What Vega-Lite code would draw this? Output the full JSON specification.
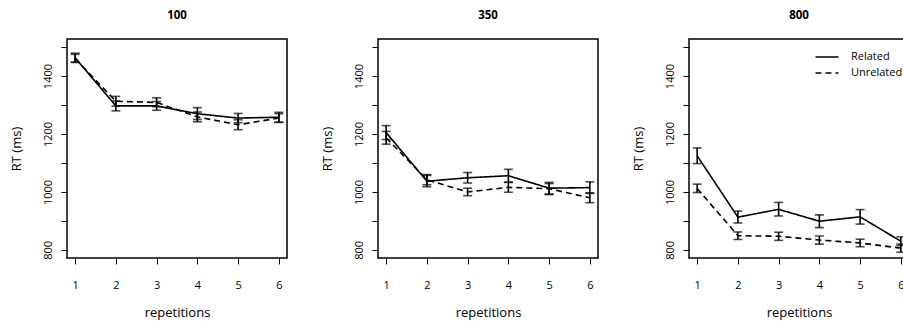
{
  "$schema": "https://vega.github.io/schema/vega-lite/v6.json",
  "background": "white",
  "padding": {"left": 9, "top": 8, "right": 0, "bottom": 0},
  "spacing": 91,
  "bounds": "flush",
  "datasets": {
    "rt": [
      {"soa": "100", "rep": 1, "cond": "Related", "rt": 1463, "lo": 1448, "hi": 1479},
      {"soa": "100", "rep": 2, "cond": "Related", "rt": 1297, "lo": 1280, "hi": 1314},
      {"soa": "100", "rep": 3, "cond": "Related", "rt": 1297, "lo": 1282, "hi": 1312},
      {"soa": "100", "rep": 4, "cond": "Related", "rt": 1270, "lo": 1250, "hi": 1291},
      {"soa": "100", "rep": 5, "cond": "Related", "rt": 1255, "lo": 1239, "hi": 1271},
      {"soa": "100", "rep": 6, "cond": "Related", "rt": 1258, "lo": 1241, "hi": 1275},
      {"soa": "100", "rep": 1, "cond": "Unrelated", "rt": 1460, "lo": 1447, "hi": 1475},
      {"soa": "100", "rep": 2, "cond": "Unrelated", "rt": 1313, "lo": 1296, "hi": 1330},
      {"soa": "100", "rep": 3, "cond": "Unrelated", "rt": 1309, "lo": 1294, "hi": 1325},
      {"soa": "100", "rep": 4, "cond": "Unrelated", "rt": 1259, "lo": 1242, "hi": 1276},
      {"soa": "100", "rep": 5, "cond": "Unrelated", "rt": 1232, "lo": 1215, "hi": 1249},
      {"soa": "100", "rep": 6, "cond": "Unrelated", "rt": 1255, "lo": 1240, "hi": 1270},
      {"soa": "350", "rep": 1, "cond": "Related", "rt": 1205, "lo": 1181, "hi": 1229},
      {"soa": "350", "rep": 2, "cond": "Related", "rt": 1037, "lo": 1018, "hi": 1057},
      {"soa": "350", "rep": 3, "cond": "Related", "rt": 1049, "lo": 1031, "hi": 1067},
      {"soa": "350", "rep": 4, "cond": "Related", "rt": 1056, "lo": 1034, "hi": 1078},
      {"soa": "350", "rep": 5, "cond": "Related", "rt": 1013, "lo": 993, "hi": 1033},
      {"soa": "350", "rep": 6, "cond": "Related", "rt": 1015, "lo": 995, "hi": 1035},
      {"soa": "350", "rep": 1, "cond": "Unrelated", "rt": 1187, "lo": 1165, "hi": 1209},
      {"soa": "350", "rep": 2, "cond": "Unrelated", "rt": 1042, "lo": 1025, "hi": 1060},
      {"soa": "350", "rep": 3, "cond": "Unrelated", "rt": 1000, "lo": 987, "hi": 1013},
      {"soa": "350", "rep": 4, "cond": "Unrelated", "rt": 1016, "lo": 999, "hi": 1033},
      {"soa": "350", "rep": 5, "cond": "Unrelated", "rt": 1011, "lo": 991, "hi": 1029},
      {"soa": "350", "rep": 6, "cond": "Unrelated", "rt": 980, "lo": 963, "hi": 997},
      {"soa": "800", "rep": 1, "cond": "Related", "rt": 1125, "lo": 1098, "hi": 1152},
      {"soa": "800", "rep": 2, "cond": "Related", "rt": 913, "lo": 893, "hi": 934},
      {"soa": "800", "rep": 3, "cond": "Related", "rt": 940, "lo": 917, "hi": 964},
      {"soa": "800", "rep": 4, "cond": "Related", "rt": 899, "lo": 877, "hi": 921},
      {"soa": "800", "rep": 5, "cond": "Related", "rt": 914, "lo": 889, "hi": 939},
      {"soa": "800", "rep": 6, "cond": "Related", "rt": 830, "lo": 815, "hi": 845},
      {"soa": "800", "rep": 1, "cond": "Unrelated", "rt": 1012, "lo": 998, "hi": 1027},
      {"soa": "800", "rep": 2, "cond": "Unrelated", "rt": 849, "lo": 836, "hi": 862},
      {"soa": "800", "rep": 3, "cond": "Unrelated", "rt": 847, "lo": 833, "hi": 861},
      {"soa": "800", "rep": 4, "cond": "Unrelated", "rt": 834, "lo": 820, "hi": 848},
      {"soa": "800", "rep": 5, "cond": "Unrelated", "rt": 824, "lo": 811, "hi": 837},
      {"soa": "800", "rep": 6, "cond": "Unrelated", "rt": 806, "lo": 792, "hi": 820}
    ]
  },
  "config": {
    "font": "Open Sans",
    "view": {"stroke": "black", "strokeWidth": 1.5},
    "axis": {
      "domain": false, "grid": false, "ticks": true, "tickSize": 6, "tickColor": "black", "tickWidth": 1,
      "labelFont": "Open Sans", "labelFontSize": 11, "labelColor": "black",
      "titleFont": "Open Sans", "titleFontSize": 13, "titleFontWeight": "normal", "titleColor": "black"
    },
    "title": {"font": "Open Sans", "fontSize": 11.5, "fontWeight": "bold", "color": "black", "offset": 18, "anchor": "middle"},
    "legend": {
      "orient": "none", "legendX": 131, "legendY": 11,
      "title": null, "symbolType": "M-2,0H2", "symbolSize": 132, "symbolStrokeColor": "black", "symbolStrokeWidth": 1.6,
      "labelFont": "Open Sans", "labelFontSize": 11, "labelColor": "black", "labelOffset": 17, "rowPadding": 4
    }
  },
  "hconcat": [
    {
      "title": "100", "width": 220, "height": 219,
      "data": {"name": "rt"},
      "transform": [{"filter": "datum.soa == '100'"}],
      "encoding": {
        "x": {"field": "rep", "type": "quantitative", "scale": {"domain": [0.8, 6.2], "nice": false, "zero": false},
              "axis": {"values": [1, 2, 3, 4, 5, 6], "title": "repetitions", "labelPadding": 15, "titlePadding": 16}},
        "y": {"field": "rt", "type": "quantitative", "scale": {"domain": [772, 1528], "nice": false, "zero": false},
              "axis": {"values": [800, 900, 1000, 1100, 1200, 1300, 1400, 1500], "format": "d", "labelExpr": "datum.value % 200 == 0 ? datum.label : ''", "labelAngle": -90, "labelPadding": 8, "title": "RT (ms)", "titlePadding": 19}}
      },
      "layer": [
        {"mark": {"type": "line", "color": "black", "strokeWidth": 1.6},
         "encoding": {"strokeDash": {"field": "cond", "type": "nominal", "scale": {"domain": ["Related", "Unrelated"], "range": [[1, 0], [6, 4]]}, "legend": null}, "detail": {"field": "cond"}}},
        {"mark": {"type": "rule", "color": "black", "strokeWidth": 1.6}, "encoding": {"y": {"field": "lo", "type": "quantitative"}, "y2": {"field": "hi"}}},
        {"mark": {"type": "tick", "orient": "horizontal", "color": "black", "size": 9, "thickness": 1.6}, "encoding": {"y": {"field": "lo", "type": "quantitative"}}},
        {"mark": {"type": "tick", "orient": "horizontal", "color": "black", "size": 9, "thickness": 1.6}, "encoding": {"y": {"field": "hi", "type": "quantitative"}}}
      ]
    },
    {
      "title": "350", "width": 220, "height": 219,
      "data": {"name": "rt"},
      "transform": [{"filter": "datum.soa == '350'"}],
      "encoding": {
        "x": {"field": "rep", "type": "quantitative", "scale": {"domain": [0.8, 6.2], "nice": false, "zero": false},
              "axis": {"values": [1, 2, 3, 4, 5, 6], "title": "repetitions", "labelPadding": 15, "titlePadding": 16}},
        "y": {"field": "rt", "type": "quantitative", "scale": {"domain": [772, 1528], "nice": false, "zero": false},
              "axis": {"values": [800, 900, 1000, 1100, 1200, 1300, 1400, 1500], "format": "d", "labelExpr": "datum.value % 200 == 0 ? datum.label : ''", "labelAngle": -90, "labelPadding": 8, "title": "RT (ms)", "titlePadding": 19}}
      },
      "layer": [
        {"mark": {"type": "line", "color": "black", "strokeWidth": 1.6},
         "encoding": {"strokeDash": {"field": "cond", "type": "nominal", "scale": {"domain": ["Related", "Unrelated"], "range": [[1, 0], [6, 4]]}, "legend": null}, "detail": {"field": "cond"}}},
        {"mark": {"type": "rule", "color": "black", "strokeWidth": 1.6}, "encoding": {"y": {"field": "lo", "type": "quantitative"}, "y2": {"field": "hi"}}},
        {"mark": {"type": "tick", "orient": "horizontal", "color": "black", "size": 9, "thickness": 1.6}, "encoding": {"y": {"field": "lo", "type": "quantitative"}}},
        {"mark": {"type": "tick", "orient": "horizontal", "color": "black", "size": 9, "thickness": 1.6}, "encoding": {"y": {"field": "hi", "type": "quantitative"}}}
      ]
    },
    {
      "title": "800", "width": 220, "height": 219,
      "data": {"name": "rt"},
      "transform": [{"filter": "datum.soa == '800'"}],
      "encoding": {
        "x": {"field": "rep", "type": "quantitative", "scale": {"domain": [0.8, 6.2], "nice": false, "zero": false},
              "axis": {"values": [1, 2, 3, 4, 5, 6], "title": "repetitions", "labelPadding": 15, "titlePadding": 16}},
        "y": {"field": "rt", "type": "quantitative", "scale": {"domain": [772, 1528], "nice": false, "zero": false},
              "axis": {"values": [800, 900, 1000, 1100, 1200, 1300, 1400, 1500], "format": "d", "labelExpr": "datum.value % 200 == 0 ? datum.label : ''", "labelAngle": -90, "labelPadding": 8, "title": "RT (ms)", "titlePadding": 19}}
      },
      "layer": [
        {"mark": {"type": "line", "color": "black", "strokeWidth": 1.6},
         "encoding": {"strokeDash": {"field": "cond", "type": "nominal", "scale": {"domain": ["Related", "Unrelated"], "range": [[1, 0], [6, 4]]}, "legend": {}}, "detail": {"field": "cond"}}},
        {"mark": {"type": "rule", "color": "black", "strokeWidth": 1.6}, "encoding": {"y": {"field": "lo", "type": "quantitative"}, "y2": {"field": "hi"}}},
        {"mark": {"type": "tick", "orient": "horizontal", "color": "black", "size": 9, "thickness": 1.6}, "encoding": {"y": {"field": "lo", "type": "quantitative"}}},
        {"mark": {"type": "tick", "orient": "horizontal", "color": "black", "size": 9, "thickness": 1.6}, "encoding": {"y": {"field": "hi", "type": "quantitative"}}}
      ]
    }
  ],
  "resolve": {"scale": {"strokeDash": "independent"}, "legend": {"strokeDash": "independent"}}
}
